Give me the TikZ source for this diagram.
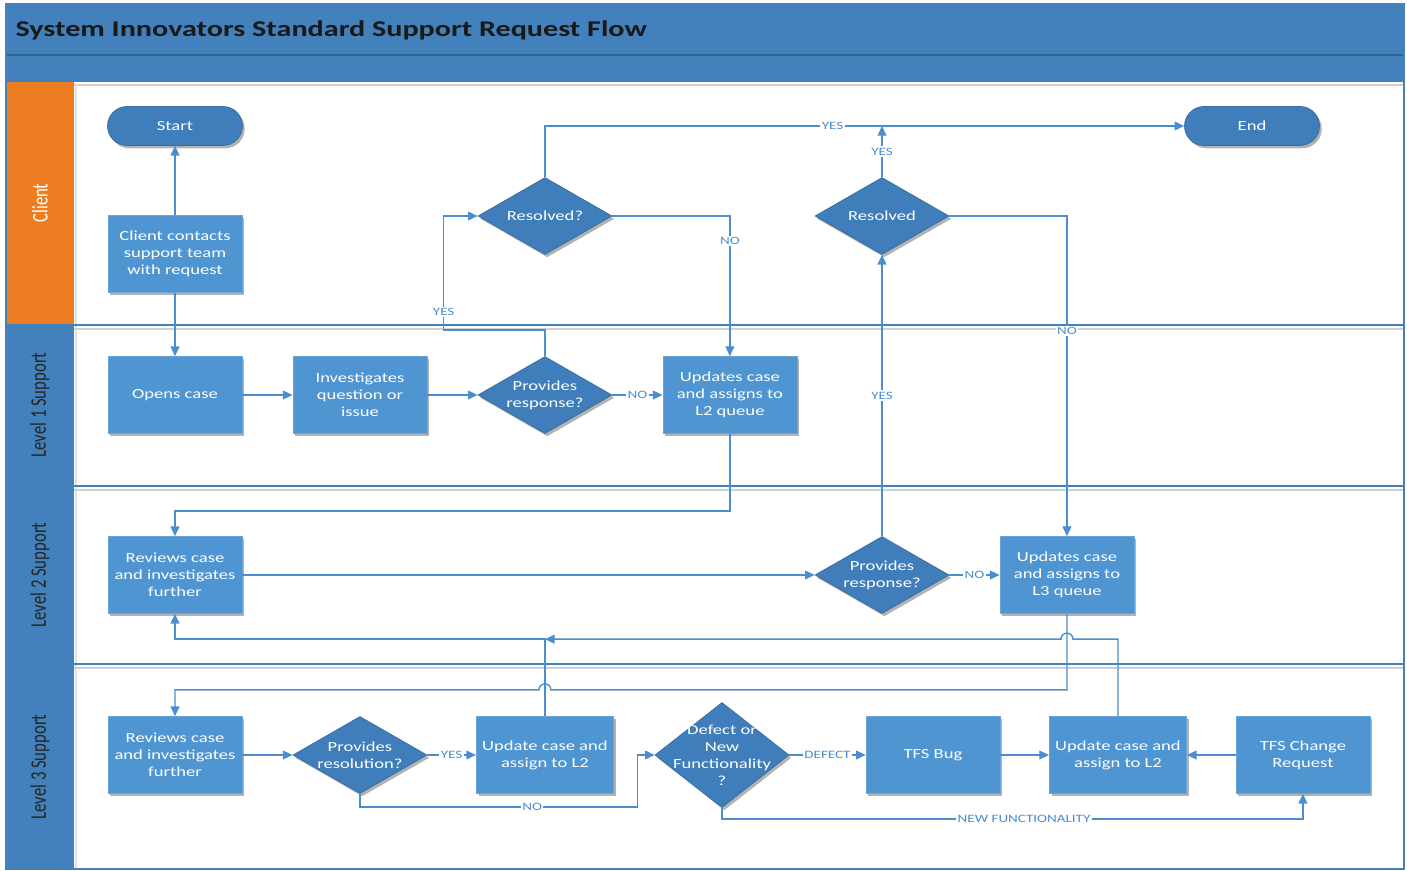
\documentclass[tikz,border=0pt]{standalone}
\usepackage{fontspec}
\setmainfont{Carlito}[FakeStretch=1.34]
\newfontfamily\lanefont{Carlito}
\usetikzlibrary{arrows.meta}
\usetikzlibrary{shapes.geometric}
\usetikzlibrary{shadows}
\usetikzlibrary{calc}
\usetikzlibrary{positioning}

\definecolor{hdrblue}{HTML}{4281BC}
\definecolor{boxblue}{HTML}{4F95D1}
\definecolor{decblue}{HTML}{3F7EBA}
\definecolor{lineblue}{HTML}{4A8ECF}
\definecolor{laneorange}{HTML}{ED7D22}

\newcommand{\lanetext}[1]{\scalebox{1}[1.34]{#1}}

\tikzset{
  shade box/.style={drop shadow={shadow xshift=1.3pt, shadow yshift=-1.6pt, opacity=0.3, fill=black}},
  box/.style={rectangle, fill=boxblue, draw=boxblue!85!white, line width=0.4pt, shade box,
    minimum width=2.68cm, minimum height=1.54cm, text=white, align=center,
    font=\fontsize{7.9}{9.6}\selectfont},
  dectext/.style={text=white, align=center, font=\fontsize{7.9}{9.6}\selectfont},
  dec/.style={diamond, fill=decblue, draw=decblue!85!black, line width=0.4pt, shade box,
    minimum width=2.68cm, minimum height=1.54cm, inner sep=0pt,
    label={[dectext]center:#1}},
  term/.style={rectangle, rounded corners=0.39cm, fill=decblue, draw=decblue!85!black,
    line width=0.4pt, shade box, minimum width=2.7cm, minimum height=0.78cm,
    text=white, font=\fontsize{7.9}{9.6}\selectfont},
  lbl/.style={fill=white, text=lineblue, inner sep=0.8pt, font=\fontsize{6.4}{7}\selectfont},
  lane/.style={rotate=90, font=\lanefont\fontsize{9.5}{11}\selectfont}
}

\begin{document}
\begin{tikzpicture}[->, >={Triangle[length=5.5pt, width=5pt]}, x=0.02cm, y=-0.02cm,
    lineblue, line width=0.8pt, node distance=3.7cm, on grid]
    \useasboundingbox (0,0) rectangle (1407,871);

    % swimlanes
    \begin{scope}[-]
        \fill[white] (6,4) rectangle (1404,869);
        \fill[hdrblue] (6,4) rectangle (1404,82);
        \draw[hdrblue!75!black, line width=0.6pt] (6,55) -- (1404,55);
        \draw[black!18, line width=1.5pt] (74,85) -- (1404,85);
        \fill[laneorange] (6,82) rectangle (74,325);
        \fill[hdrblue] (6,325) rectangle (74,869);
        \draw[black!12, line width=1.5pt] (76,84) -- (76,869);
        \foreach \y in {325,486,664} {
            \draw[black!18, line width=1.5pt] (74,\y+4) -- (1404,\y+4);
            \draw[hdrblue, line width=1.2pt] (6,\y) -- (1404,\y);
        }
        \draw[hdrblue, line width=1.2pt] (6,4) rectangle (1404,869);
    \end{scope}

    \node[anchor=west, text=black!90, font=\bfseries\fontsize{12.8}{15}\selectfont] (title) at (9,30)
        {System Innovators Standard Support Request Flow};
    \node[lane, text=white] (lclient) at (40,203) {\lanetext{Client}};
    \node[lane, text=black!85] (lone) at (40,405) {\lanetext{Level 1 Support}};
    \node[lane, text=black!85] (ltwo) at (40,575) {\lanetext{Level 2 Support}};
    \node[lane, text=black!85] (lthree) at (40,767) {\lanetext{Level 3 Support}};

    % client
    \node[term] (start) at (175,126) {Start};
    \node[term] (end) at (1252,126) {End};
    \node[box] (cc) at (175,254) {Client contacts\\support team\\with request};
    \node[dec={Resolved?}] (res1) at (545,216) {};
    \node[dec={Resolved}] (res2) at (882,216) {};

    % level 1
    \node[box] (open) at (175,395) {Opens case};
    \node[box, right=of open] (inv) {Investigates\\question or\\issue};
    \node[dec={Provides\\response?}, right=of inv] (pr1) {};
    \node[box, right=of pr1] (upd2) {Updates case\\and assigns to\\L2 queue};

    % level 2
    \node[box] (rev2) at (175,575) {Reviews case\\and investigates\\further};
    \node[dec={Provides\\response?}] (pr2) at (882,575) {};
    \node[box, right=of pr2] (upd3) {Updates case\\and assigns to\\L3 queue};

    % level 3
    \node[box] (rev3) at (175,755) {Reviews case\\and investigates\\further};
    \node[dec={Provides\\resolution?}, right=of rev3] (pres) {};
    \node[box, right=of pres] (upd1) {Update case and\\assign to L2};
    \node[dec={Defect or\\New\\Functionality\\?}, minimum height=2.1cm] (dfc) at (722,755) {};
    \node[box] (bug) at (933,755) {TFS Bug};
    \node[box, right=of bug] (upd4) {Update case and\\assign to L2};
    \node[box, right=of upd4] (tcr) {TFS Change\\Request};

    \path (cc) edge (start)
          (cc) edge (open)
          (open) edge (inv)
          (inv) edge (pr1)
          (pr1) edge node[lbl]{NO} (upd2)
          (rev2) edge (pr2)
          (pr2) edge node[lbl]{NO} (upd3)
          (pr2) edge node[lbl]{YES} (res2)
          (rev3) edge (pres)
          (pres) edge node[lbl]{YES} (upd1)
          (dfc) edge node[lbl]{DEFECT} (bug)
          (bug) edge (upd4)
          (tcr) edge (upd4);

    \draw (pr1.north) -- ++(0,-26) -| node[lbl, pos=0.58]{YES} ($(res1.west)+(-34,0)$) -- (res1.west);
    \draw (res1.north) |- node[lbl, pos=0.725]{YES} (end.west);
    \draw (res1.east) -| node[lbl, pos=0.59]{NO} (upd2.north);
    \draw (res2.north) -- node[lbl]{YES} (res2.north |- end.west);
    \draw (res2.east) -| node[lbl, pos=0.68]{NO} (upd3.north);
    \draw (upd2.south) -- ++(0,77) -| (rev2.north);
    \draw (upd3.south) -- ++(0,76) coordinate (j1) -- ($(j1 -| upd1)+(6,0)$)
        arc[start angle=0, end angle=180, radius=0.12cm] -| (rev3.north);
    \draw (upd1.north) -- ++(0,-77) coordinate (j2) -| (rev2.south);
    \draw (upd4.north) -- ++(0,-77) -- ($(upd3.south |- j2)+(6,0)$)
        arc[start angle=0, end angle=180, radius=0.12cm] -- (j2);
    \draw (pres.south) -- ++(0,13) -| node[lbl, pos=0.31]{NO} ($(dfc.west)+(-17,0)$) -- (dfc.west);
    \draw (dfc.south) -- ++(0,11) -| node[lbl, pos=0.26]{NEW FUNCTIONALITY} (tcr.south);
\end{tikzpicture}
\end{document}
